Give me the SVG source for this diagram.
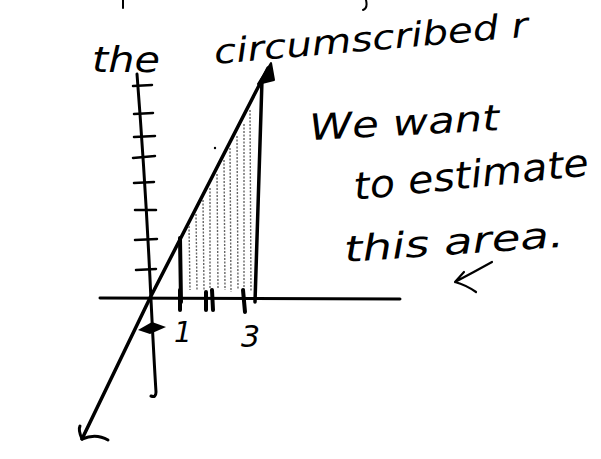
<svg xmlns="http://www.w3.org/2000/svg" width="601" height="459" viewBox="0 0 601 459">
<style>
.ink{fill:none;stroke:#000;stroke-linecap:round;stroke-linejoin:round}
.hatch{fill:none;stroke:#666;stroke-width:1.4;stroke-dasharray:2 1.5}
.hw{font-family:"DejaVu Sans","Liberation Sans",sans-serif;font-style:italic;fill:#000}
</style>
<rect width="601" height="459" fill="#fff"/>
<!-- fragments of previous line -->
<path class="ink" stroke-width="2" d="M123 0 L123 8"/>
<path class="ink" stroke-width="2" d="M366 0 Q368 8 363 10"/>
<!-- texts -->
<text class="hw" x="92" y="72" font-size="36" textLength="68" lengthAdjust="spacingAndGlyphs">the</text>
<text class="hw" x="215" y="64" font-size="34" transform="rotate(-5 215 64)" textLength="315" lengthAdjust="spacingAndGlyphs">circumscribed r</text>
<text class="hw" x="310" y="140" font-size="36" transform="rotate(-3 310 140)" textLength="190" lengthAdjust="spacingAndGlyphs">We want</text>
<text class="hw" x="355" y="200" font-size="38" transform="rotate(-6 355 200)" textLength="236" lengthAdjust="spacingAndGlyphs">to estimate</text>
<text class="hw" x="345" y="262" font-size="36" transform="rotate(-4 345 262)" textLength="220" lengthAdjust="spacingAndGlyphs">this area.</text>
<text class="hw" x="174" y="342" font-size="28">1</text>
<text class="hw" x="241" y="347" font-size="30">3</text>
<!-- small arrow pointing to area -->
<path class="ink" stroke-width="2.2" d="M492 262 Q474 272 455 282 M455 282 L464 272 M455 282 Q466 285 476 292"/>
<!-- axes -->
<path class="ink" stroke-width="3" d="M100 298 L400 299"/>
<path class="ink" stroke-width="3" d="M137 74 Q146 190 151 300 Q154 360 156 392 Q156 398 151 396"/>
<path class="ink" stroke-width="2.5" d="M133 86 L152 85 M134 114 L153 113 M134 137 L155 136 M133 158 L155 156 M134 183 L154 182 M135 210 L156 210 M135 240 L157 239 M136 270 L156 269"/>
<!-- line y = f(x) with arrows -->
<path class="ink" stroke-width="3.5" d="M82 439 L150 298 L268 68"/>
<path d="M258 84 L271 63 L274 80 Z" fill="#000" stroke="#000" stroke-width="2" stroke-linejoin="round"/>
<path class="ink" stroke-width="3" d="M82 439 Q78 430 80 426 M82 439 Q96 433 108 440"/>
<!-- verticals -->
<path class="ink" stroke-width="4" d="M180 238 L181 302"/>
<path class="ink" stroke-width="3.5" d="M262 80 L255 302"/>
<!-- shading -->
<path class="hatch" d="M189 226 L190 290 M196 214 L197 290 M203 200 L204 290 M210 188 L210 288 M217 174 L218 288 M224 160 L225 290 M230 148 L231 292 M237 136 L238 290 M244 124 L244 292 M250 110 L251 292"/>
<!-- x tick marks -->
<path class="ink" stroke-width="4" d="M206 292 L206 310 M212 290 L213 310 M243 290 L245 312 M180 290 L180 310"/>
<!-- small mark near origin -->
<path d="M138 330 L152 322 L166 327 L150 334 Z" fill="#000"/>
<!-- stray dot -->
<circle cx="215" cy="148" r="1.2" fill="#000"/>
</svg>
